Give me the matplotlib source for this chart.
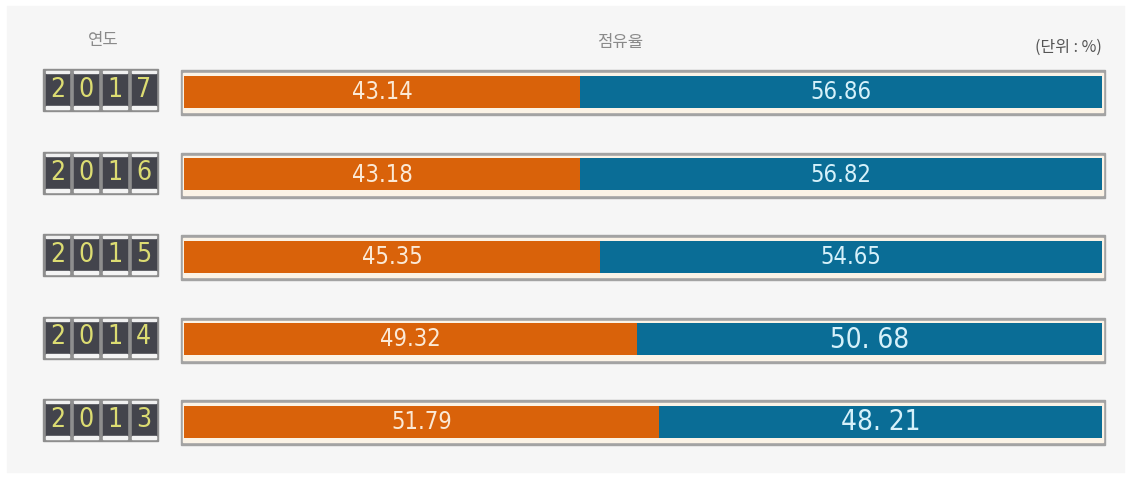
import matplotlib.pyplot as plt
from matplotlib.patches import Rectangle

plt.rcParams['font.family'] = ['Noto Sans CJK KR', 'DejaVu Sans']

# data
years = ['2017', '2016', '2015', '2014', '2013']
share_a = [43.14, 43.18, 45.35, 49.32, 51.79]
share_b = [56.86, 56.82, 54.65, 50.68, 48.21]
label_a = ['43.14', '43.18', '45.35', '49.32', '51.79']
label_b = ['56.86', '56.82', '54.65', '50. 68', '48. 21']

W, H = 1132, 478
x0, x1 = 184, 1102           # pixel extent of 0..100 %
ppu = (x1 - x0) / 100.0      # pixels per percent

fig = plt.figure(figsize=(W / 100, H / 100), dpi=100)
fig.patch.set_facecolor('white')
ax = fig.add_axes([0, 0, 1, 1])
ax.set_xlim(-x0 / ppu, (W - x0) / ppu)
ax.set_ylim(H, 0)
ax.axis('off')


def px(p):
    """pixel x -> data x"""
    return (p - x0) / ppu


narrow = dict(family='DejaVu Sans', fontstretch='condensed')

# background panel
ax.add_patch(Rectangle((px(7), 6), 1117 / ppu, 466, color='#f6f6f6', zorder=0))

orange = '#d9620a'
blue = '#0a6d96'
centers = [93 + 82.5 * i for i in range(len(years))]

for i, yc in enumerate(centers):
    # frame
    ax.add_patch(Rectangle((px(181), yc - 23), 924 / ppu, 45, color='#a3a3a3', zorder=1))
    ax.add_patch(Rectangle((px(183), yc - 20), 920 / ppu, 39, color='#fbf3e6', zorder=2))
    ax.barh(yc - 1.5, share_a[i], height=32, left=0, color=orange, zorder=3)
    ax.barh(yc - 1.5, share_b[i], height=32, left=share_a[i], color=blue, zorder=3)
    big = ' ' in label_b[i]
    ax.text(share_a[i] / 2, yc - 1, label_a[i], ha='center', va='center',
            color='#fbe9d6', fontsize=17, zorder=4, **narrow)
    ax.text(share_a[i] + share_b[i] / 2, yc - 1, label_b[i], ha='center', va='center',
            color='#d6f1fa', fontsize=20 if big else 17, zorder=4, **narrow)

    # year counter boxes
    bx, bw = 43, 115
    ax.add_patch(Rectangle((px(bx), yc - 24), bw / ppu, 42, color='#8e8e8e', zorder=1))
    cw = bw / 4.0
    for k, d in enumerate(years[i]):
        cx = bx + k * cw
        ax.add_patch(Rectangle((px(cx + 2.5), yc - 21), (cw - 5) / ppu, 34,
                               color='#43444c', zorder=2))
        ax.add_patch(Rectangle((px(cx + 2.5), yc - 22), (cw - 5) / ppu, 2,
                               color='#f0f0f0', zorder=2))
        ax.add_patch(Rectangle((px(cx + 2.5), yc + 13), (cw - 5) / ppu, 3,
                               color='#f4f4f4', zorder=2))
        ax.text(px(cx + cw / 2), yc - 3, d, ha='center', va='center', color='#dcdc72',
                fontsize=19, zorder=3, **narrow)

# headers
ax.text(px(103), 40, '연도', ha='center', va='center', color='#8a8a8a', fontsize=12)
ax.text(px(620), 42, '점유율', ha='center', va='center', color='#8a8a8a', fontsize=12)
ax.text(px(1068), 47, '(단위 : %)', ha='center', va='center', color='#555555', fontsize=11.5)

fig.savefig('out.png', dpi=100, facecolor=fig.get_facecolor())
